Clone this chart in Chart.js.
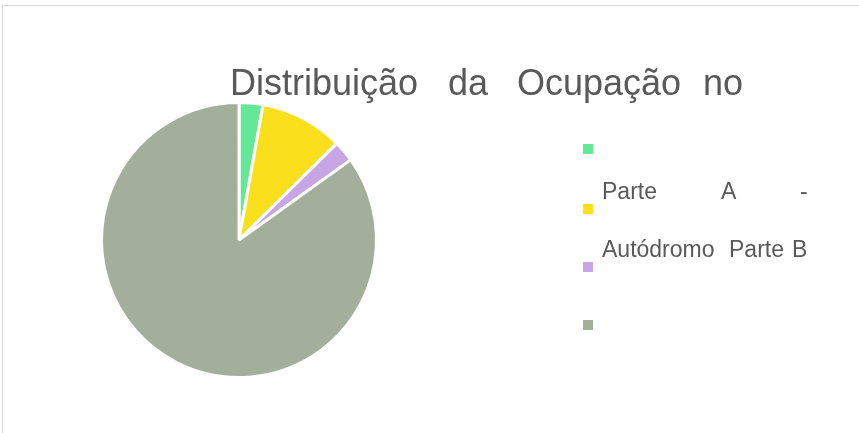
<!DOCTYPE html>
<html>
<head>
<meta charset="utf-8">
<script src="https://cdn.jsdelivr.net/npm/chart.js@4"></script>
<style>
  html, body { margin: 0; padding: 0; background: #fff; overflow: hidden; }
  #moldura { position: absolute; left: 2px; top: 5px; width: 900px; height: 500px; border: 1px solid #d9d9d9; }
  #grafico-wrap { position: absolute; left: 0; top: 0; width: 859px; height: 433px; }
</style>
</head>
<body>
<div id="moldura"></div>
<div id="grafico-wrap"><canvas id="myChart-pizza" width="859" height="433"></canvas></div>
<script>
// dados do grafico
const categorias = ['', '', '', ''];
const valores = [2.8, 9.8, 2.5, 84.9];
const cores = ['#64E897', '#FAE01C', '#C8A5E4', '#A3AE9B'];

// textos
const palavrasTitulo = ['Distribuição', 'da', 'Ocupação', 'no'];
const linhaLegenda1 = ['Parte', 'A', '-'];
const linhaLegenda2 = ['Autódromo', 'Parte', 'B'];

// titulo e legenda desenhados a mao (texto justificado como no original)
const textoPlugin = {
  id: 'textoPlugin',
  afterDraw(chart) {
    const ctx = chart.ctx;
    ctx.save();
    ctx.fillStyle = '#595959';
    ctx.textBaseline = 'alphabetic';
    ctx.textAlign = 'left';

    // titulo
    ctx.font = '36px "Liberation Sans", Arial, sans-serif';
    const xTitulo = [230, 448, 517, 703];
    palavrasTitulo.forEach((p, i) => ctx.fillText(p, xTitulo[i], 95));

    // quadradinhos da legenda
    const yQuad = [144, 204, 262, 320];
    chart.data.datasets[0].backgroundColor.forEach((c, i) => {
      ctx.fillStyle = c;
      ctx.fillRect(583, yQuad[i], 10, 10);
    });

    // texto da legenda
    ctx.fillStyle = '#595959';
    ctx.font = '23px "Liberation Sans", Arial, sans-serif';
    const x1 = [602, 721, 800];
    linhaLegenda1.forEach((p, i) => ctx.fillText(p, x1[i], 199));
    const x2 = [602, 729, 792];
    linhaLegenda2.forEach((p, i) => ctx.fillText(p, x2[i], 257));
    ctx.restore();
  }
};

const ctx = document.getElementById('myChart-pizza').getContext('2d');
const chart = new Chart(ctx, {
  type: 'pie',
  data: {
    labels: categorias,
    datasets: [{
      data: valores,
      backgroundColor: cores,
      borderColor: '#ffffff',
      borderWidth: 3
    }]
  },
  options: {
    responsive: false,
    animation: false,
    layout: {
      padding: { left: 100, top: 101, right: 481, bottom: 54 }
    },
    plugins: {
      legend: { display: false },
      title: { display: false },
      tooltip: { enabled: false }
    }
  },
  plugins: [textoPlugin]
});
</script>
</body>
</html>
